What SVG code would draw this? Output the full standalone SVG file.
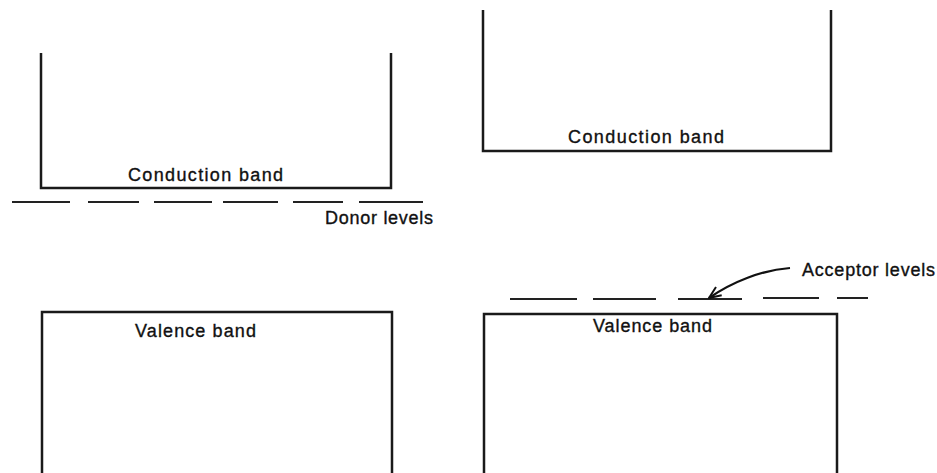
<svg xmlns="http://www.w3.org/2000/svg" width="937" height="473" viewBox="0 0 937 473">
  <style>
    .edge { fill: none; stroke: #1a1a1a; stroke-width: 2.5; }
    .lvl { fill: none; stroke: #222; stroke-width: 2; }
    .lbl { font-family: "Liberation Sans", Arial, sans-serif; font-size: 18px; fill: #111; stroke: #111; stroke-width: 0.35; }
    .arr { fill: none; stroke: #111; stroke-width: 2.2; }
  </style>
  <defs>
    <marker id="open" viewBox="0 0 14 12" refX="13" refY="6" markerWidth="14" markerHeight="12" markerUnits="userSpaceOnUse" orient="auto">
      <path d="M1,1 L13,6 L1,11" fill="none" stroke="#111" stroke-width="2"/>
    </marker>
  </defs>
  <rect width="937" height="473" fill="#fff"/>

  <!-- n-type: conduction band -->
  <g id="n-conduction">
    <path class="edge" d="M41,53 V188 H391 V53"/>
    <text class="lbl" x="128" y="181" textLength="155" lengthAdjust="spacing">Conduction band</text>
  </g>

  <!-- n-type: donor levels -->
  <g id="n-donor">
    <path class="lvl" d="M12,202 H70 M88,202 H139 M154,202 H212 M223,202 H278 M293,202 H343 M359,202 H423"/>
    <text class="lbl" x="325" y="224" textLength="108" lengthAdjust="spacing">Donor levels</text>
  </g>

  <!-- n-type: valence band -->
  <g id="n-valence">
    <path class="edge" d="M42,473 V312 H392 V473"/>
    <text class="lbl" x="135" y="337" textLength="121" lengthAdjust="spacing">Valence band</text>
  </g>

  <!-- p-type: conduction band -->
  <g id="p-conduction">
    <path class="edge" d="M483,10 V151 H831 V10"/>
    <text class="lbl" x="568" y="143" textLength="156" lengthAdjust="spacing">Conduction band</text>
  </g>

  <!-- p-type: acceptor levels -->
  <g id="p-acceptor">
    <path class="lvl" d="M510,299 H577 M593,299 H656 M678,299 H742 M763,298 H819 M837,298 H868"/>
    <text class="lbl" x="802" y="276" textLength="133" lengthAdjust="spacing">Acceptor levels</text>
  </g>

  <!-- p-type: valence band -->
  <g id="p-valence">
    <path class="edge" d="M484,473 V314 H837 V473"/>
    <text class="lbl" x="593" y="332" textLength="119" lengthAdjust="spacing">Valence band</text>
  </g>

  <!-- connectors -->
  <g id="connectors">
    <path class="arr" d="M790,268 C762,270 732,282 709,298" marker-end="url(#open)"/>
  </g>
</svg>
